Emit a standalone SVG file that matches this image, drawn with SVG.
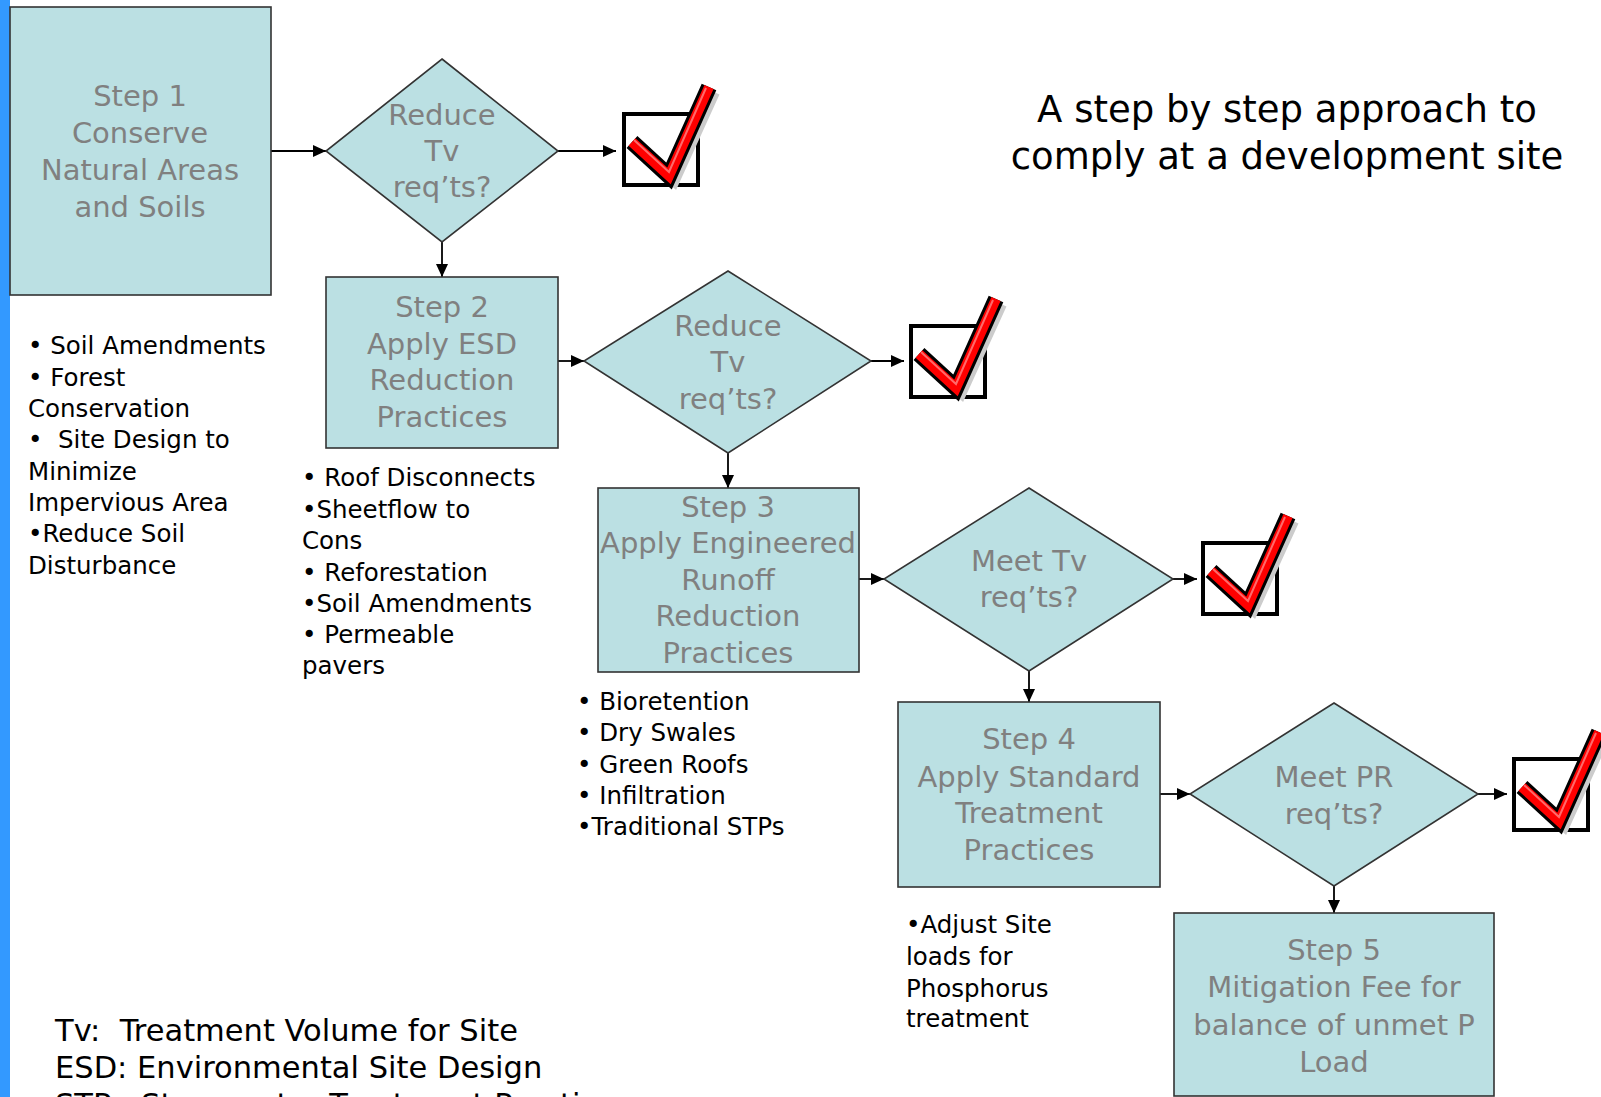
<svg xmlns="http://www.w3.org/2000/svg" xmlns:xlink="http://www.w3.org/1999/xlink" width="1601" height="1097" viewBox="0 0 1601 1097">
<style>
.box{fill:#BBE0E3;stroke:#333333;stroke-width:1.6}
.lbl{font-family:"DejaVu Sans",sans-serif;font-size:29px;fill:#808080;text-anchor:middle}
.lst{font-family:"DejaVu Sans",sans-serif;font-size:24.5px;fill:#000000;white-space:pre}
.leg{font-family:"DejaVu Sans",sans-serif;font-size:30.5px;fill:#000000;white-space:pre}
.ttl{font-family:"DejaVu Sans",sans-serif;font-size:37px;fill:#000000;text-anchor:middle}
.con{stroke:#000000;stroke-width:1.8;fill:none;marker-end:url(#ah)}
</style>
<defs>
<marker id="ah" markerUnits="userSpaceOnUse" markerWidth="13" markerHeight="12" refX="13" refY="6" orient="auto">
<path d="M0,0 L13,6 L0,12 z" fill="#000000"/>
</marker>
<g id="chk">
<rect x="2" y="2" width="74" height="71" fill="#FFFFFF" stroke="#000000" stroke-width="4"/>
<polyline points="15,35 52,68 92,-20" fill="none" stroke="#CCCCCC" stroke-width="12" stroke-linejoin="miter"/>
<polyline points="10,30 47,64 87,-25" fill="none" stroke="#000000" stroke-width="16" stroke-linejoin="miter"/>
<polyline points="10,30 47,64 87,-25" fill="none" stroke="#FF0000" stroke-width="10" stroke-linejoin="miter"/>
<polyline points="12,28 47,60 84,-24" fill="none" stroke="#FF6A6A" stroke-width="2" stroke-linejoin="miter"/>
</g>
</defs>
<rect width="1601" height="1097" fill="#FFFFFF"/>
<rect x="0" y="0" width="10" height="1097" fill="#3399FF"/>

<g id="title">
<text class="ttl" x="1287" y="122">A step by step approach to</text>
<text class="ttl" x="1287" y="169">comply at a development site</text>
</g>

<g id="connectors">
<line class="con" x1="271" y1="151" x2="326" y2="151"/>
<line class="con" x1="558" y1="151" x2="616" y2="151"/>
<line class="con" x1="442" y1="242" x2="442" y2="277"/>
<line class="con" x1="558" y1="361" x2="584" y2="361"/>
<line class="con" x1="871" y1="361" x2="904" y2="361"/>
<line class="con" x1="728" y1="453" x2="728" y2="488"/>
<line class="con" x1="859" y1="579" x2="884" y2="579"/>
<line class="con" x1="1173" y1="579" x2="1197" y2="579"/>
<line class="con" x1="1029" y1="671" x2="1029" y2="702"/>
<line class="con" x1="1160" y1="794" x2="1190" y2="794"/>
<line class="con" x1="1478" y1="794" x2="1507" y2="794"/>
<line class="con" x1="1334" y1="886" x2="1334" y2="913"/>
</g>

<g id="step1">
<rect class="box" x="10" y="7" width="261" height="288"/>
<text class="lbl" x="140" y="106">Step 1</text>
<text class="lbl" x="140" y="143">Conserve</text>
<text class="lbl" x="140" y="180">Natural Areas</text>
<text class="lbl" x="140" y="217">and Soils</text>
</g>

<g id="decision1">
<polygon class="box" points="442,59 558,151 442,242 326,151"/>
<text class="lbl" x="442" y="125">Reduce</text>
<text class="lbl" x="442" y="161">Tv</text>
<text class="lbl" x="442" y="197">req’ts?</text>
</g>

<g id="check1"><use xlink:href="#chk" href="#chk" transform="translate(622,112)"/></g>

<g id="step2">
<rect class="box" x="326" y="277" width="232" height="171"/>
<text class="lbl" x="442" y="317">Step 2</text>
<text class="lbl" x="442" y="354">Apply ESD</text>
<text class="lbl" x="442" y="390">Reduction</text>
<text class="lbl" x="442" y="427">Practices</text>
</g>

<g id="decision2">
<polygon class="box" points="728,271 871,361 728,453 584,361"/>
<text class="lbl" x="728" y="336">Reduce</text>
<text class="lbl" x="728" y="372">Tv</text>
<text class="lbl" x="728" y="409">req’ts?</text>
</g>

<g id="check2"><use xlink:href="#chk" href="#chk" transform="translate(909,324)"/></g>

<g id="step3">
<rect class="box" x="598" y="488" width="261" height="184"/>
<text class="lbl" x="728" y="517">Step 3</text>
<text class="lbl" x="728" y="553">Apply Engineered</text>
<text class="lbl" x="728" y="590">Runoff</text>
<text class="lbl" x="728" y="626">Reduction</text>
<text class="lbl" x="728" y="663">Practices</text>
</g>

<g id="decision3">
<polygon class="box" points="1029,488 1173,579 1029,671 884,579"/>
<text class="lbl" x="1029" y="571">Meet Tv</text>
<text class="lbl" x="1029" y="607">req’ts?</text>
</g>

<g id="check3"><use xlink:href="#chk" href="#chk" transform="translate(1201,541)"/></g>

<g id="step4">
<rect class="box" x="898" y="702" width="262" height="185"/>
<text class="lbl" x="1029" y="749">Step 4</text>
<text class="lbl" x="1029" y="787">Apply Standard</text>
<text class="lbl" x="1029" y="823">Treatment</text>
<text class="lbl" x="1029" y="860">Practices</text>
</g>

<g id="decision4">
<polygon class="box" points="1334,703 1478,794 1334,886 1190,794"/>
<text class="lbl" x="1334" y="787">Meet PR</text>
<text class="lbl" x="1334" y="824">req’ts?</text>
</g>

<g id="check4"><use xlink:href="#chk" href="#chk" transform="translate(1512,757)"/></g>

<g id="step5">
<rect class="box" x="1174" y="913" width="320" height="183"/>
<text class="lbl" x="1334" y="960">Step 5</text>
<text class="lbl" x="1334" y="997">Mitigation Fee for</text>
<text class="lbl" x="1334" y="1035">balance of unmet P</text>
<text class="lbl" x="1334" y="1072">Load</text>
</g>

<g id="list1">
<text class="lst" x="28" y="354">• Soil Amendments</text>
<text class="lst" x="28" y="386">• Forest</text>
<text class="lst" x="28" y="417">Conservation</text>
<text class="lst" x="28" y="448">•  Site Design to</text>
<text class="lst" x="28" y="480">Minimize</text>
<text class="lst" x="28" y="511">Impervious Area</text>
<text class="lst" x="28" y="542">•Reduce Soil</text>
<text class="lst" x="28" y="574">Disturbance</text>
</g>

<g id="list2">
<text class="lst" x="302" y="486">• Roof Disconnects</text>
<text class="lst" x="302" y="518">•Sheetflow to</text>
<text class="lst" x="302" y="549">Cons</text>
<text class="lst" x="302" y="581">• Reforestation</text>
<text class="lst" x="302" y="612">•Soil Amendments</text>
<text class="lst" x="302" y="643">• Permeable</text>
<text class="lst" x="302" y="674">pavers</text>
</g>

<g id="list3">
<text class="lst" x="577" y="710">• Bioretention</text>
<text class="lst" x="577" y="741">• Dry Swales</text>
<text class="lst" x="577" y="773">• Green Roofs</text>
<text class="lst" x="577" y="804">• Infiltration</text>
<text class="lst" x="577" y="835">•Traditional STPs</text>
</g>

<g id="list4">
<text class="lst" x="906" y="933">•Adjust Site</text>
<text class="lst" x="906" y="965">loads for</text>
<text class="lst" x="906" y="997">Phosphorus</text>
<text class="lst" x="906" y="1027">treatment</text>
</g>

<g id="legend">
<text class="leg" x="55" y="1041">Tv:  Treatment Volume for Site</text>
<text class="leg" x="55" y="1078">ESD: Environmental Site Design</text>
<text class="leg" x="55" y="1115">STP:  Stormwater Treatment Practices</text>
</g>
</svg>
